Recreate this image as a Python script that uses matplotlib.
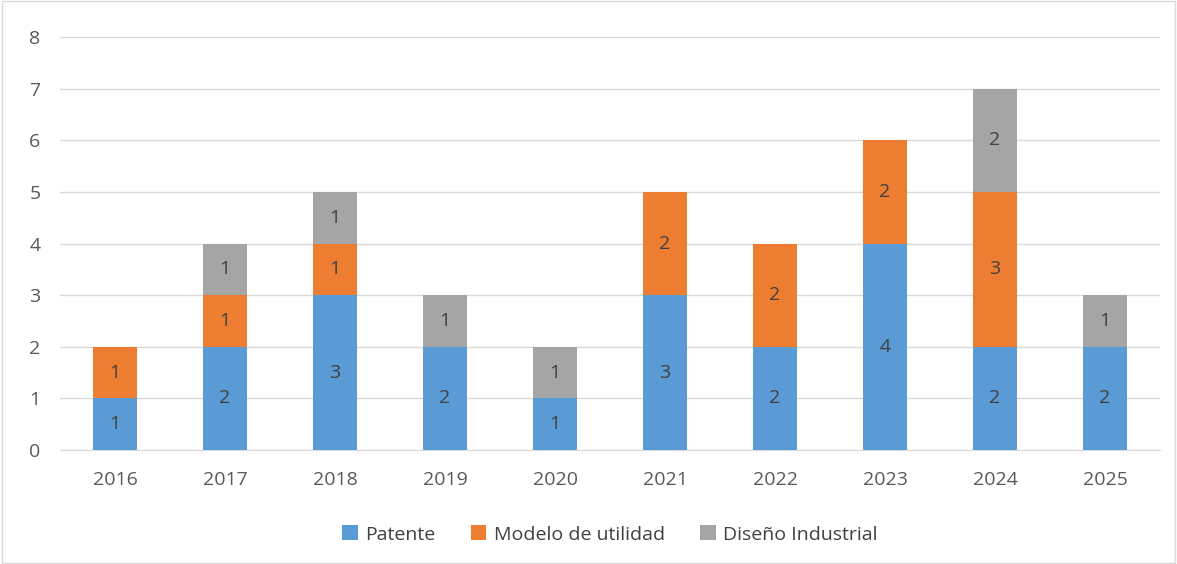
import numpy as np
import matplotlib.pyplot as plt
from matplotlib.patches import Rectangle

# datos
years = ['2016', '2017', '2018', '2019', '2020', '2021', '2022', '2023', '2024', '2025']
patente = [1, 2, 3, 2, 1, 3, 2, 4, 2, 2]
modelo = [1, 1, 1, 0, 0, 2, 2, 2, 3, 0]
diseno = [0, 1, 1, 1, 1, 0, 0, 0, 2, 1]

series = [
    ('Patente', patente, '#5B9BD5'),
    ('Modelo de utilidad', modelo, '#ED7D31'),
    ('Diseño Industrial', diseno, '#A5A5A5'),
]

plt.rcParams['font.family'] = ['Open Sans', 'DejaVu Sans']

fig = plt.figure(figsize=(11.77, 5.64), dpi=100)
ax = fig.add_axes([0.051, 0.202, 0.9346, 0.732])

x = np.arange(len(years))
bottom = np.zeros(len(years))
for name, vals, col in series:
    vals = np.array(vals)
    ax.bar(x, vals, 0.4, bottom=bottom, color=col, label=name, zorder=3)
    for xi, b, v in zip(x, bottom, vals):
        if v > 0:
            ax.text(xi, b + v / 2, str(v), ha='center', va='center',
                    fontsize=14, color='#404040', zorder=4)
    bottom += vals

ax.set_xlim(-0.5, len(years) - 0.5)
ax.set_ylim(0, 8)
ax.set_yticks(range(9))
ax.set_xticks(x)
ax.set_xticklabels(years)
ax.grid(axis='y', color='#D9D9D9', linewidth=1, zorder=0)
for s in ['top', 'right', 'left']:
    ax.spines[s].set_visible(False)
ax.spines['bottom'].set_color('#D9D9D9')
ax.tick_params(axis='both', length=0, labelsize=14, colors='#595959')
ax.tick_params(axis='x', pad=15)
ax.tick_params(axis='y', pad=14)

ax.legend(loc='upper center', bbox_to_anchor=(0.5, -0.14), ncol=3, frameon=False,
          fontsize=14, labelcolor='#404040', handlelength=0.8, handleheight=0.8,
          handletextpad=0.4, columnspacing=1.8)

fig.patches.append(Rectangle((0.002, 0.002), 0.996, 0.996, transform=fig.transFigure,
                             fill=False, edgecolor='#D9D9D9', linewidth=1))

fig.savefig('out.png', dpi=100)
